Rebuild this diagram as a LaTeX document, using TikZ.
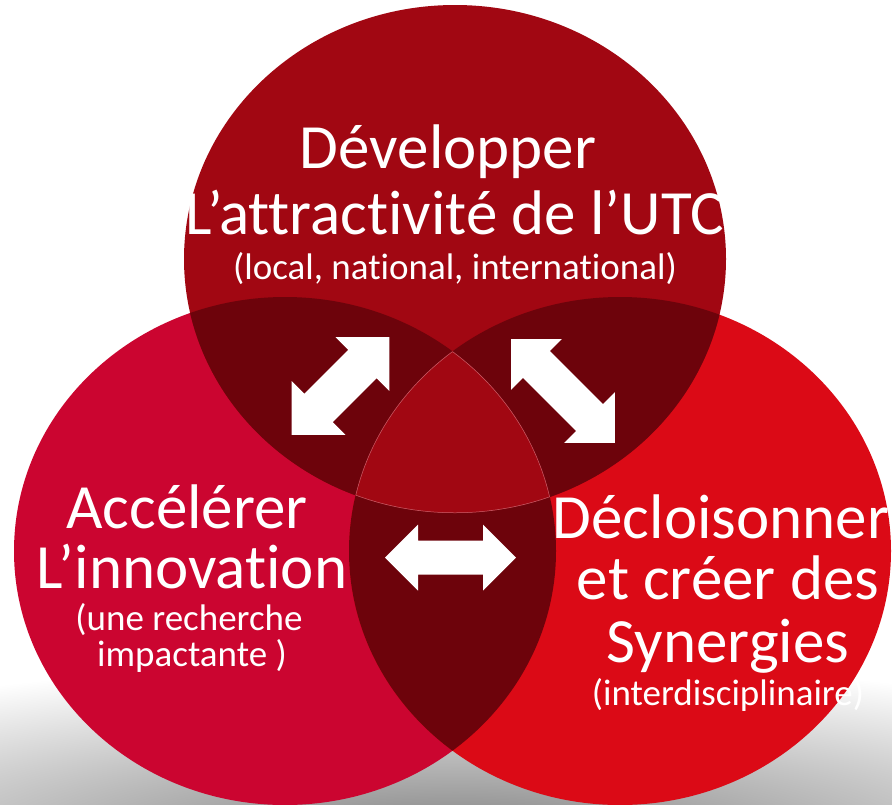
\documentclass[tikz,border=0pt]{standalone}
\usepackage{fontspec}
\setmainfont{Carlito}[Ligatures={NoCommon}]

\definecolor{topred}{HTML}{A10712}
\definecolor{leftred}{HTML}{CB0530}
\definecolor{rightred}{HTML}{DB0A16}
\definecolor{darkred}{HTML}{6D030B}
\definecolor{seamred}{HTML}{C8606A}

\tikzset{
    bigtext/.style={text=white, inner sep=0pt, anchor=base, font=\fontsize{63}{63}\selectfont},
    smalltext/.style={text=white, inner sep=0pt, anchor=base, font=\fontsize{37}{37}\selectfont},
    disc/.style={x radius=271pt, y radius=254pt},
}

% two-way block arrow: centre, angle, half length, half head, half shaft
\newcommand{\twoway}[5]{%
    \fill[white, shift={#1}, rotate=#2]
        (-#3,0) -- ({-#3+#4},#4) -- ({-#3+#4},#5) -- ({#3-#4},#5) -- ({#3-#4},#4)
        -- (#3,0) -- ({#3-#4},-#4) -- ({#3-#4},-#5) -- ({-#3+#4},-#5) -- ({-#3+#4},-#4) -- cycle;
}

\begin{document}
\begin{tikzpicture}[x=1pt, y=-1pt]
    \useasboundingbox (0,0) rectangle (892,804);
    \fill[white] (0,0) rectangle (892,804);
    % shadow under the circles
    \begin{scope}
        \clip (0,0) rectangle (892,804);
        \shade[inner color=black!50, outer color=white] (-445,660) rectangle (1355,1020);
    \end{scope}

    \coordinate (T) at (455,259);
    \coordinate (L) at (285,551);
    \coordinate (R) at (620,551);

    \fill[leftred] (L) ellipse[disc];
    \fill[rightred] (R) ellipse[disc];
    \fill[topred] (T) ellipse[disc];
    \begin{scope}
        \clip (T) ellipse[disc];
        \fill[darkred] (L) ellipse[disc];
        \fill[darkred] (R) ellipse[disc];
    \end{scope}
    \begin{scope}
        \clip (L) ellipse[disc];
        \fill[darkred] (R) ellipse[disc];
    \end{scope}
    \begin{scope}
        \clip (T) ellipse[disc];
        \clip (L) ellipse[disc];
        \clip (R) ellipse[disc];
        \fill[topred] (T) ellipse[disc];
        \draw[seamred, line width=1pt] (T) ellipse[disc] (L) ellipse[disc] (R) ellipse[disc];
    \end{scope}

    \twoway{(340.5,386)}{45}{69}{38}{20}
    \twoway{(563,391)}{-45}{73.5}{36}{19}
    \twoway{(450.5,557.5)}{0}{65.5}{33}{17}

    \node[bigtext] (dev1) at (448,168) {Développer};
    \node[bigtext] (dev2) at (455,234) {L’attractivité de l’UTC};
    \node[smalltext] (dev3) at (455,279) {(local, national, international)};

    \node[bigtext] (acc1) at (187,528) {Accélérer};
    \node[bigtext] (acc2) at (192,588) {L’innovation};
    \node[smalltext] (acc3) at (189,630) {(une recherche};
    \node[smalltext] (acc4) at (192,666) {impactante )};

    \node[bigtext] (dec1) at (721,538) {Décloisonner};
    \node[bigtext] (dec2) at (728,599) {et créer des};
    \node[bigtext] (dec3) at (728,662) {Synergies};
    \node[smalltext] (dec4) at (728,705) {(interdisciplinaire)};
\end{tikzpicture}
\end{document}
